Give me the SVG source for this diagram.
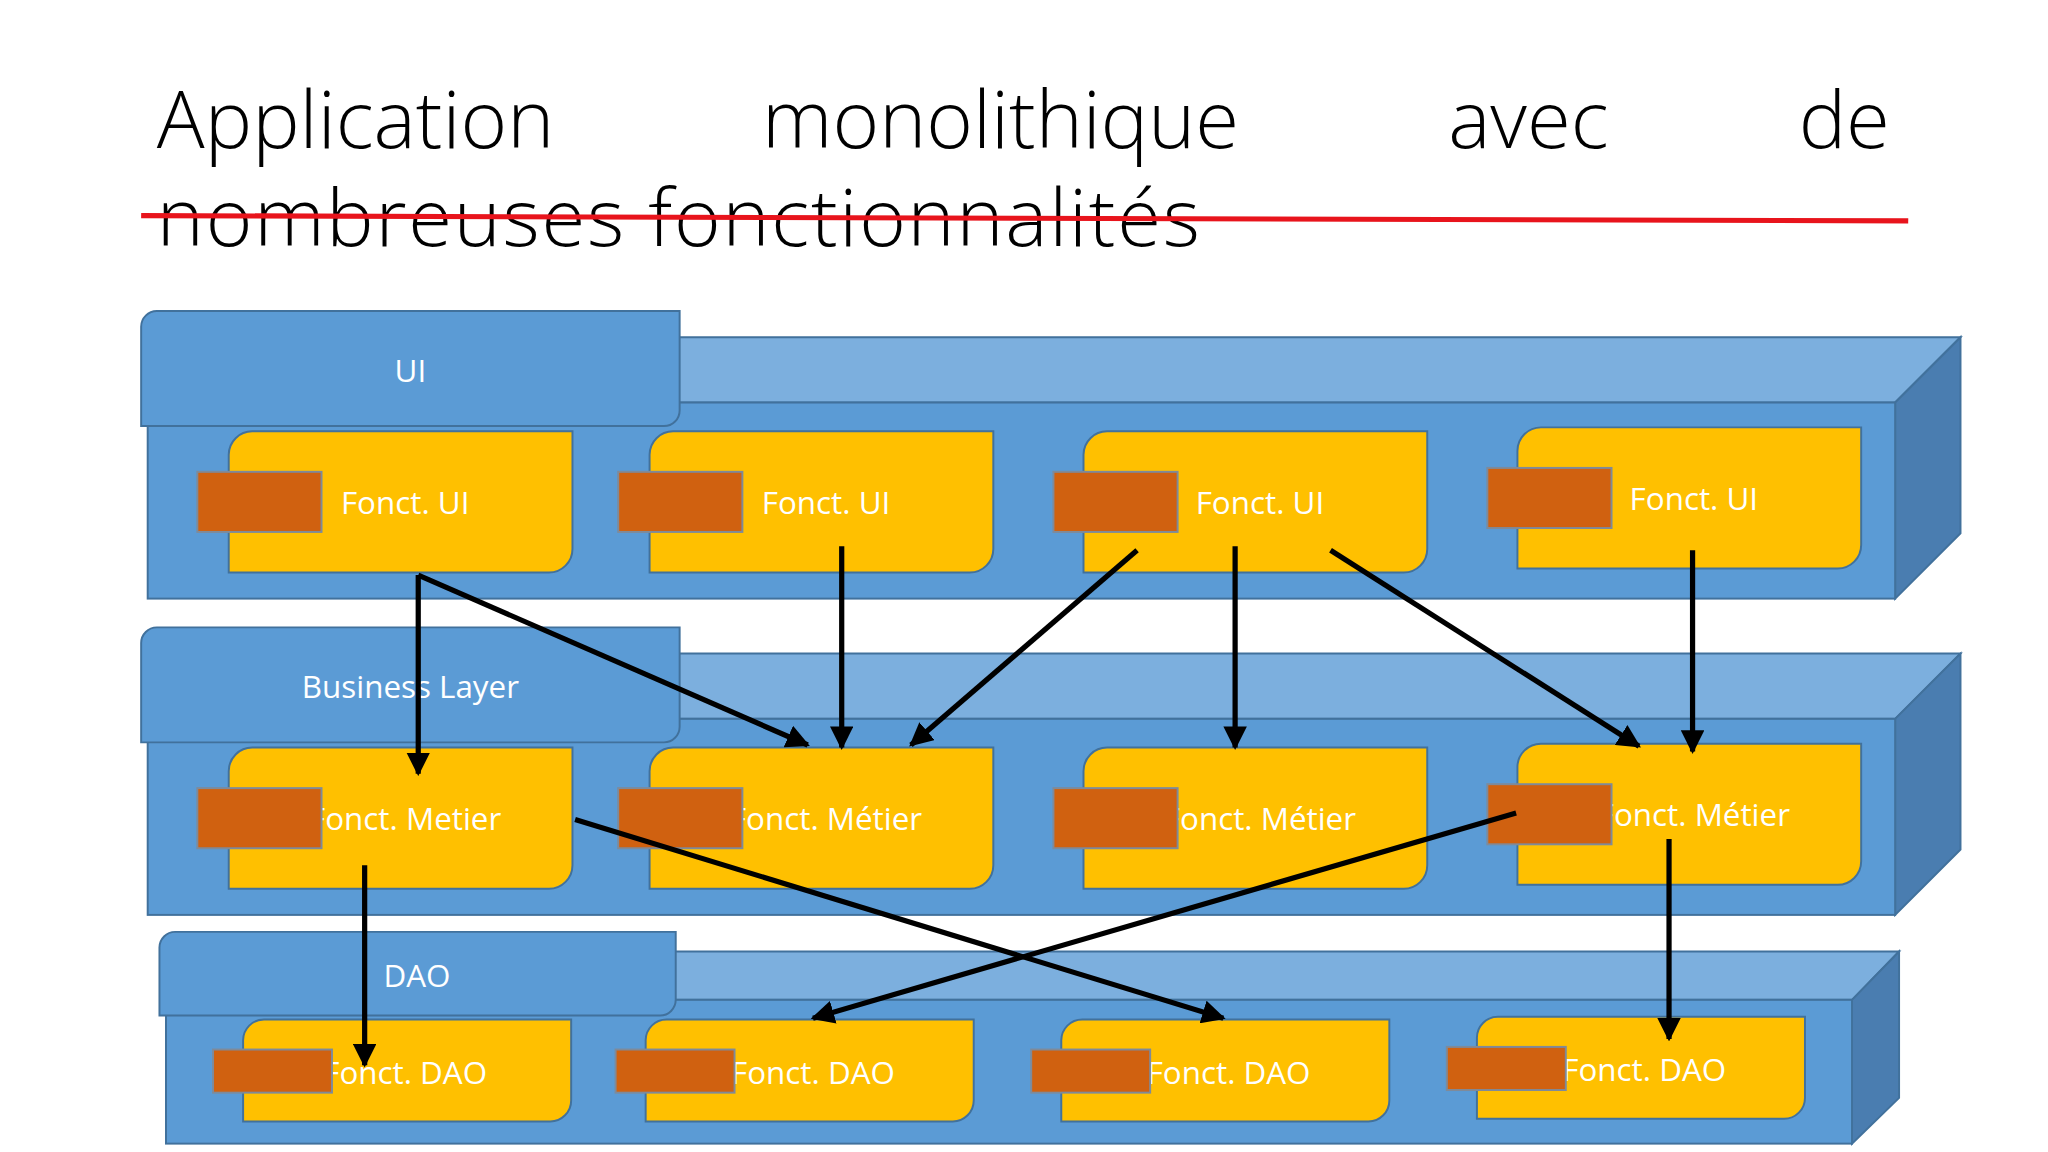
<svg xmlns="http://www.w3.org/2000/svg" width="2048" height="1152" viewBox="0 0 2048 1152">
<defs>
<style>
.front{fill:#5b9bd5;stroke:#41719c;stroke-width:1.5}
.top{fill:#7cafde;stroke:#41719c;stroke-width:1.5}
.side{fill:#4a7db0;stroke:#41719c;stroke-width:1.5}
.tab{fill:#5b9bd5;stroke:#41719c;stroke-width:1.5}
.box{fill:#ffc000;stroke:#41719c;stroke-width:1.5}
.port{fill:#d06110;stroke:#7f8a99;stroke-width:1.5}
.t{font-family:"Open Sans","Liberation Sans",sans-serif;font-size:24px;fill:#fff}
.title{font-family:"Open Sans","Liberation Sans",sans-serif;font-weight:300;font-size:61px;fill:#000}
.c{stroke:#000;stroke-width:4;fill:none;marker-end:url(#ah)}
</style>
<marker id="ah" viewBox="0 0 10 10" refX="9" refY="5" markerWidth="4.5" markerHeight="4.5" orient="auto" markerUnits="strokeWidth"><path d="M0,0L10,5L0,10z" fill="#000"/></marker>
<path id="yb" d="M18,0H263V90A18,18 0 0 1 245,108H0V18A18,18 0 0 1 18,0Z"/>
</defs>
<rect width="2048" height="1152" fill="#fff"/>
<g transform="scale(1.307)">
<g id="title">
<text class="title" x="120" y="113">Application</text>
<text class="title" x="583" y="113">monolithique</text>
<text class="title" x="1108" y="113">avec</text>
<text class="title" x="1446" y="113" text-anchor="end">de</text>
<text class="title" x="120" y="188" textLength="798" lengthAdjust="spacing">nombreuses fonctionnalités</text>
<line x1="108" y1="165" x2="1460" y2="169" stroke="#e8141c" stroke-width="4"/>
</g>
<g id="layer-ui">
<polygon class="top" points="160,258 1500,258 1450,308 113,308"/>
<polygon class="side" points="1450,308 1500,258 1500,408 1450,458"/>
<rect class="front" x="113" y="308" width="1337" height="150"/>
<path class="tab" d="M120,238H520V314A12,12 0 0 1 508,326H108V250A12,12 0 0 1 120,238Z"/>
<text class="t" x="314" y="292" text-anchor="middle">UI</text>
</g>
<g id="layer-business">
<polygon class="top" points="160,500 1500,500 1450,550 113,550"/>
<polygon class="side" points="1450,550 1500,500 1500,650 1450,700"/>
<rect class="front" x="113" y="550" width="1337" height="150"/>
<path class="tab" d="M120,480H520V556A12,12 0 0 1 508,568H108V492A12,12 0 0 1 120,480Z"/>
<text class="t" x="314" y="534" text-anchor="middle">Business Layer</text>
</g>
<g id="layer-dao">
<polygon class="top" points="170,728 1453,728 1417,765 127,765"/>
<polygon class="side" points="1417,765 1453,728 1453,840 1417,875"/>
<rect class="front" x="127" y="765" width="1290" height="110"/>
<path class="tab" d="M134,713H517V765A12,12 0 0 1 505,777H122V725A12,12 0 0 1 134,713Z"/>
<text class="t" x="319" y="755" text-anchor="middle">DAO</text>
</g>
<g id="ui1"><use href="#yb" class="box" x="175" y="330"/><text class="t" x="310" y="393" text-anchor="middle">Fonct. UI</text><rect class="port" x="151" y="361" width="95" height="46"/></g>
<g id="ui2"><use href="#yb" class="box" x="497" y="330"/><text class="t" x="632" y="393" text-anchor="middle">Fonct. UI</text><rect class="port" x="473" y="361" width="95" height="46"/></g>
<g id="ui3"><use href="#yb" class="box" x="829" y="330"/><text class="t" x="964" y="393" text-anchor="middle">Fonct. UI</text><rect class="port" x="806" y="361" width="95" height="46"/></g>
<g id="ui4"><use href="#yb" class="box" x="1161" y="327"/><text class="t" x="1296" y="390" text-anchor="middle">Fonct. UI</text><rect class="port" x="1138" y="358" width="95" height="46"/></g>
<g id="m1"><use href="#yb" class="box" x="175" y="572"/><text class="t" x="310" y="635" text-anchor="middle">Fonct.  Metier</text><rect class="port" x="151" y="603" width="95" height="46"/></g>
<g id="m2"><use href="#yb" class="box" x="497" y="572"/><text class="t" x="632" y="635" text-anchor="middle">Fonct. Métier</text><rect class="port" x="473" y="603" width="95" height="46"/></g>
<g id="m3"><use href="#yb" class="box" x="829" y="572"/><text class="t" x="964" y="635" text-anchor="middle">Fonct. Métier</text><rect class="port" x="806" y="603" width="95" height="46"/></g>
<g id="m4"><use href="#yb" class="box" x="1161" y="569"/><text class="t" x="1296" y="632" text-anchor="middle">Fonct. Métier</text><rect class="port" x="1138" y="600" width="95" height="46"/></g>
<g id="d1"><path class="box" d="M202,780H437V842A16,16 0 0 1 421,858H186V796A16,16 0 0 1 202,780Z"/><text class="t" x="310" y="829" text-anchor="middle">Fonct.  DAO</text><rect class="port" x="163" y="803" width="91" height="33"/></g>
<g id="d2"><path class="box" d="M510,780H745V842A16,16 0 0 1 729,858H494V796A16,16 0 0 1 510,780Z"/><text class="t" x="622" y="829" text-anchor="middle">Fonct. DAO</text><rect class="port" x="471" y="803" width="91" height="33"/></g>
<g id="d3"><path class="box" d="M828,780H1063V842A16,16 0 0 1 1047,858H812V796A16,16 0 0 1 828,780Z"/><text class="t" x="940" y="829" text-anchor="middle">Fonct. DAO</text><rect class="port" x="789" y="803" width="91" height="33"/></g>
<g id="d4"><path class="box" d="M1146,778H1381V840A16,16 0 0 1 1365,856H1130V794A16,16 0 0 1 1146,778Z"/><text class="t" x="1258" y="827" text-anchor="middle">Fonct. DAO</text><rect class="port" x="1107" y="801" width="91" height="33"/></g>
<g id="connectors">
<line class="c" x1="320" y1="440" x2="320" y2="592"/>
<line class="c" x1="320" y1="440" x2="618" y2="570"/>
<line class="c" x1="644" y1="418" x2="644" y2="572"/>
<line class="c" x1="870" y1="421" x2="697" y2="570"/>
<line class="c" x1="945" y1="418" x2="945" y2="572"/>
<line class="c" x1="1018" y1="421" x2="1254" y2="571"/>
<line class="c" x1="1295" y1="421" x2="1295" y2="575"/>
<line class="c" x1="279" y1="662" x2="279" y2="815"/>
<line class="c" x1="440" y1="627" x2="936" y2="779"/>
<line class="c" x1="1160" y1="622" x2="622" y2="779"/>
<line class="c" x1="1277" y1="642" x2="1277" y2="795"/>
</g>
</g>
</svg>
